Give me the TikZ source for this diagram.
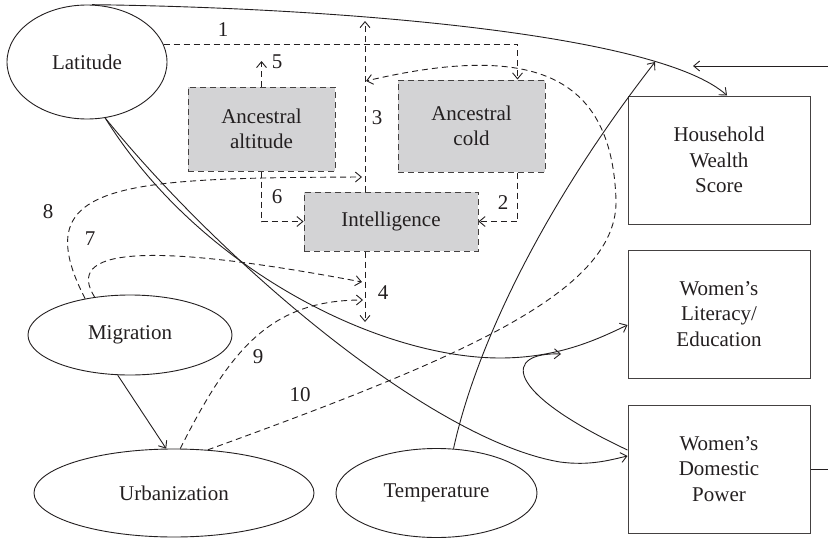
\documentclass[tikz,border=0pt]{standalone}
\usepackage{fontspec}
\setmainfont{Liberation Serif}
\newfontfamily\timesfont{Liberation Serif}
\usetikzlibrary{arrows.meta,shapes.geometric,calc}
\definecolor{latgray}{RGB}{211,211,213}
\definecolor{ink}{RGB}{35,31,32}
\begin{document}
\begin{tikzpicture}[x=1pt,y=-1pt,
  every node/.style={font=\timesfont\fontsize{21}{25.5}\selectfont, text=ink},
  oval/.style={draw=ink, ellipse, inner sep=0pt, line width=0.9pt},
  outbox/.style={draw=ink!85, rectangle, inner sep=0pt, align=center,
    minimum width=182pt, minimum height=128pt, line width=1pt},
  latent/.style={draw=ink!85, fill=latgray, rectangle, inner sep=0pt, align=center,
    line width=1pt, dash pattern=on 6pt off 4pt},
  conn/.style={draw=ink, line width=0.9pt, -{Straight Barb[length=6pt,width=10pt]}},
  dconn/.style={conn, dash pattern=on 6pt off 4pt},
  num/.style={inner sep=0pt}
]
\clip (0,0) rectangle (828,538);

% nodes
\node[oval, minimum width=160pt, minimum height=114pt] (lat) at (87,62) {Latitude};
\node[oval, minimum width=204pt, minimum height=80pt] (mig) at (130,335) {Migration};
\node[oval, minimum width=280pt, minimum height=88pt] (urb) at (174,493) {Urbanization};
\node[oval, minimum width=201pt, minimum height=89pt] (temp) at (436.5,493) {Temperature};

\node[latent, minimum width=147pt, minimum height=84pt] (alt) at (261.5,129) {Ancestral\\altitude};
\node[latent, minimum width=147pt, minimum height=92pt] (cold) at (471.5,126) {Ancestral\\cold};
\node[latent, minimum width=174pt, minimum height=59pt] (intel) at (391,221.5) {Intelligence};

\node[outbox] (hws) at (719,160) {Household\\Wealth\\Score};
\node[outbox] (wl) at (719,314) {Women’s\\Literacy/\\Education};
\node[outbox] (wdp) at (719,469) {Women’s\\Domestic\\Power};

% free-end coordinates
\coordinate (t5) at (261.5,61);
\coordinate (t3) at (365,21);
\coordinate (t4) at (365,322);
\coordinate (t8) at (362,177);
\coordinate (t7) at (362,282);
\coordinate (t9) at (363,300);
\coordinate (t10) at (366,81);
\coordinate (ttemp) at (655,62);
\coordinate (tloop) at (561,354);
\coordinate (tret) at (693,66);
\coordinate (cret) at (860,469);

% solid connectors
\draw[conn] (lat.85) .. controls (350,8) and (660,35) .. ([xshift=8pt]hws.north);
\draw[conn] (wdp.east) -- (cret) |- (tret);
\draw[conn] (lat.288) .. controls (200,270) and (380,358) .. (500,358)
   .. controls (560,358) and (600,338) .. ([yshift=-11pt]wl.west);
\draw[conn] (lat.288) .. controls (220,260) and (430,440) .. (560,462)
   .. controls (590,466) and (610,460) .. ([yshift=13pt]wdp.west);
\draw[conn] (temp.69) .. controls (475,350) and (540,210) .. (ttemp);
\draw[conn] ([yshift=19pt]wdp.west) .. controls (500,390) and (505,352) .. (tloop);
\draw[conn] (mig.253) -- (urb.100);

% dashed connectors
\draw[dconn] (lat.13) -| ([xshift=-28pt]cold.north east);
\draw[dconn] (alt.north) -- (t5);
\draw[dconn] ([xshift=-26pt]intel.north) -- (t3);
\draw[dconn] (alt.south) |- (intel.west);
\draw[dconn] ([xshift=-28pt]cold.south east) |- (intel.east);
\draw[dconn] ([xshift=-26pt]intel.south) -- (t4);
\draw[dconn] (mig.141) .. controls (25,182) and (120,178) .. (t8);
\draw[dconn] (mig.133) .. controls (65,250) and (140,240) .. (t7);
\draw[dconn] (urb.82) .. controls (230,350) and (270,300) .. (t9);
\draw[dconn] (urb.52) .. controls (470,355) and (618,290) .. (616,200)
   .. controls (612,80) and (540,40) .. (t10);

% labels
\node[num] (n1) at (223,30) {1};
\node[num] (n2) at (503,203) {2};
\node[num] (n3) at (377,118) {3};
\node[num] (n4) at (383,293) {4};
\node[num] (n5) at (277,62) {5};
\node[num] (n6) at (277,197) {6};
\node[num] (n7) at (90,239) {7};
\node[num] (n8) at (48,212) {8};
\node[num] (n9) at (258,357) {9};
\node[num] (n10) at (300,395) {10};
\end{tikzpicture}
\end{document}
